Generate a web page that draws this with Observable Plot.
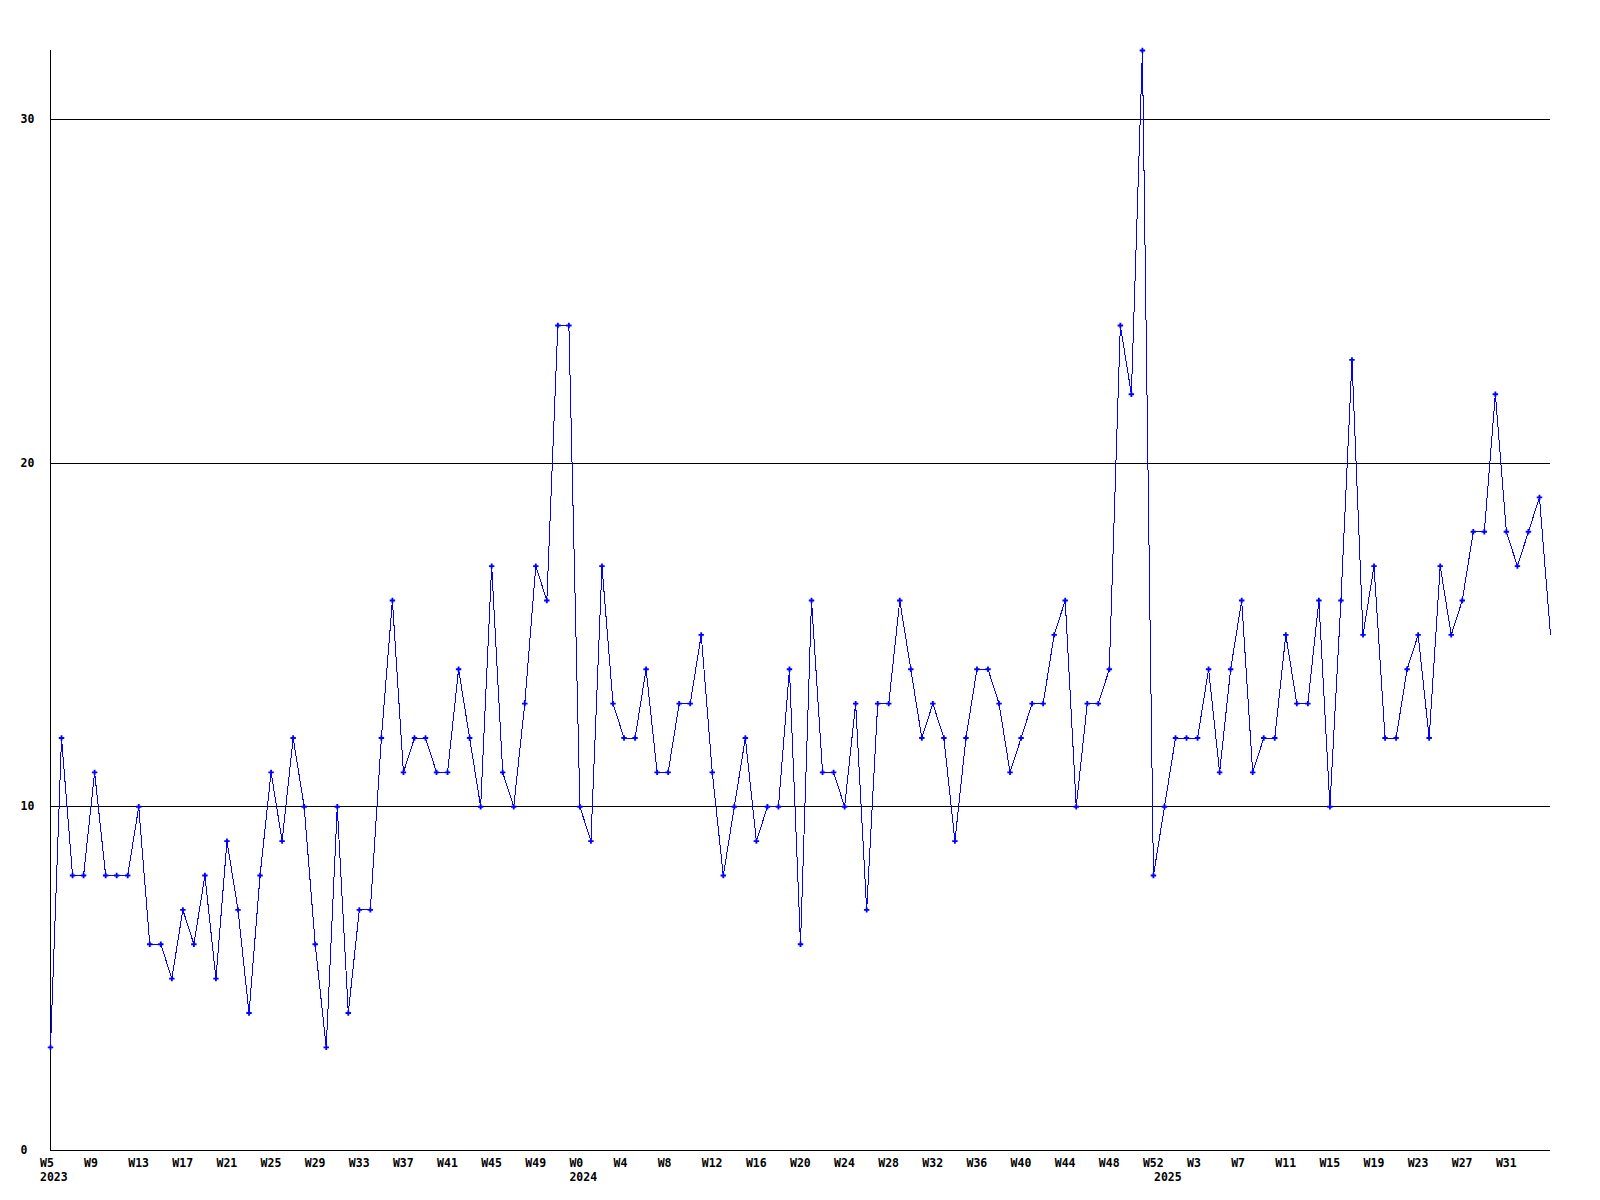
<!DOCTYPE html>
<html>
<head>
<meta charset="utf-8">
<script src="https://cdn.jsdelivr.net/npm/d3@7"></script>
<script src="https://cdn.jsdelivr.net/npm/@observablehq/plot@0.6"></script>
<style>
  html, body { margin: 0; padding: 0; background: #fff; }
  #chart svg { display: block; }
</style>
</head>
<body>
<div id="chart"></div>
<script>
// Week ranges per year (weekly series, %W-style week numbers)
const years = [2023, 2024, 2025];
const firstWeek = [5, 0, 0];
const lastWeek = [52, 52, 35];

// Weekly values
const values = [
  3, 12, 8, 8, 11, 8, 8, 8, 10, 6, 6, 5, 7, 6, 8, 5, 9, 7, 4, 8, 11, 9, 12, 10, 6, 3, 10, 4, 7,
  7, 12, 16, 11, 12, 12, 11, 11, 14, 12, 10, 17, 11, 10, 13, 17, 16, 24, 24, 10, 9, 17, 13, 12, 12, 14, 11,
  11, 13, 13, 15, 11, 8, 10, 12, 9, 10, 10, 14, 6, 16, 11, 11, 10, 13, 7, 13, 13, 16, 14, 12, 13, 12, 9,
  12, 14, 14, 13, 11, 12, 13, 13, 15, 16, 10, 13, 13, 14, 24, 22, 32, 8, 10, 12, 12, 12, 14, 11, 14, 16, 11,
  12, 12, 15, 13, 13, 16, 10, 16, 23, 15, 17, 12, 12, 14, 15, 12, 17, 15, 16, 18, 18, 22, 18, 17, 18, 19, 15
];

const yTicks = [0, 10, 20, 30];
const gridLines = [10, 20, 30];
const yMax = 32;
const weekTickStep = 4;

// Build rows
const rows = [];
years.forEach((yr, k) => {
  for (let w = firstWeek[k]; w <= lastWeek[k]; w++) rows.push({year: yr, week: w, label: "W" + w});
});
rows.forEach((r, i) => { r.i = i; r.value = values[i]; });

const weekTicks = rows.filter(r => r.i % weekTickStep === 0 && r.i < rows.length - 1);
const yearTicks = rows.filter(r => r.i === 0 || rows[r.i - 1].year !== r.year);
const markerRows = rows.filter(r => r.i < rows.length - 1);

const font = {fontFamily: "DejaVu Sans Mono", fontSize: 11.5, fontWeight: "bold", fill: "black"};

const chart = Plot.plot({
  width: 1600,
  height: 1200,
  marginLeft: 50,
  marginRight: 50,
  marginTop: 50,
  marginBottom: 50,
  x: {domain: [0, rows.length - 1], axis: null},
  y: {domain: [0, yMax], axis: null},
  marks: [
    Plot.ruleY(gridLines, {stroke: "black", strokeWidth: 1, shapeRendering: "crispEdges"}),
    Plot.ruleY([0], {stroke: "black", strokeWidth: 1, shapeRendering: "crispEdges"}),
    Plot.ruleX([0], {stroke: "black", strokeWidth: 1, shapeRendering: "crispEdges"}),
    Plot.line(rows, {x: "i", y: "value", stroke: "#0000ff", strokeWidth: 1, shapeRendering: "crispEdges"}),
    Plot.dot(markerRows, {x: "i", y: "value", symbol: "cross", r: 2.3, fill: "#0000ff", stroke: "none"}),
    Plot.text(weekTicks, {x: "i", text: "label", frameAnchor: "bottom", textAnchor: "start", lineAnchor: "top", dx: -10.5, dy: 8, ...font}),
    Plot.text(yearTicks, {x: "i", text: d => String(d.year), frameAnchor: "bottom", textAnchor: "start", lineAnchor: "top", dx: -10.5, dy: 22.7, ...font}),
    Plot.text(yTicks, {y: d => d, text: d => String(d), frameAnchor: "left", textAnchor: "start", lineAnchor: "middle", dx: -30, ...font})
  ]
});
document.getElementById("chart").appendChild(chart);
</script>
</body>
</html>
